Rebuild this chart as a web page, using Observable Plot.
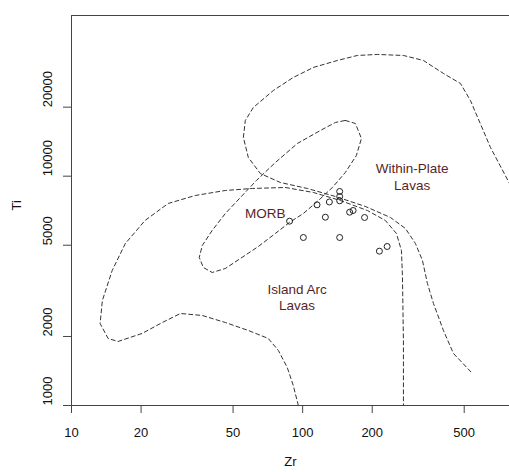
<!DOCTYPE html>
<html>
<head>
<meta charset="utf-8">
<script src="https://cdn.jsdelivr.net/npm/d3@7"></script>
<script src="https://cdn.jsdelivr.net/npm/@observablehq/plot@0.6"></script>
<style>
  html, body { margin: 0; padding: 0; background: #fff; overflow: hidden; }
  #chart { width: 509px; height: 472px; }
</style>
</head>
<body>
<div id="chart"></div>
<script>
// Sample points (Zr ppm, Ti ppm)
const sampleZr = [87.8, 115.4, 130.5, 144.6, 144.6, 144.6, 159.7, 165.3, 185.3, 125.4, 100.7, 144.6, 214.8, 232];
const sampleTi = [6365, 7500, 7718, 8577, 8155, 7810, 6966, 7086, 6605, 6625, 5403, 5403, 4710, 4936];

// Within-plate field boundary
const wpZr = [876, 777, 649.6, 532, 481.6, 406.5, 333, 272.9, 210.6, 172.5, 141.3, 111.3, 91.1, 74.7, 61.2, 56.5, 55.4, 58.2, 65.6, 80.1, 104.8, 138.6, 186.8, 239.8, 278.4, 307.5, 329.8, 346.6, 368, 406.5, 449.2, 542.8];
const wpTi = [7527, 9482, 13340, 21380, 25370, 28050, 31960, 33610, 33950, 33610, 31960, 29800, 26950, 23650, 19940, 17500, 14750, 12070, 10270, 9386, 8840, 8155, 7378, 6605, 5914, 5088, 4290, 3405, 2786, 2124, 1686, 1379];

// Island arc field boundary
const iaZr = [95.8, 91.1, 85.8, 78.5, 71.0, 58.2, 46.3, 36.8, 29.6, 24.7, 20.2, 15.9, 14.4, 13.3, 13.6, 15.0, 17.1, 20.8, 26.2, 34.3, 46.3, 60.6, 84.2, 111.3, 145.6, 190.6, 228.0, 254.5, 267.5, 270.2, 272.9, 272.9];
const iaTi = [1000, 1222, 1464, 1738, 1960, 2124, 2301, 2469, 2519, 2301, 2061, 1902, 1960, 2278, 2870, 3880, 5088, 6409, 7603, 8237, 8663, 8840, 8928, 8490, 7834, 7086, 6409, 5626, 4742, 3690, 1921, 1000];

// MORB field boundary (closed)
const morbZr = [153, 169.1, 179.6, 170.8, 153, 134.5, 117, 100.7, 87.6, 76.2, 64.3, 53.8, 46.3, 40.6, 37.2, 35.7, 36.8, 40.6, 46.3, 53.8, 63.1, 76.2, 94.9, 119.3, 138.6, 153];
const morbTi = [17500, 16980, 14600, 12310, 10380, 8928, 7834, 6876, 6280, 5626, 4936, 4377, 3958, 3802, 3998, 4421, 4987, 5798, 6876, 8074, 9576, 11470, 13890, 15820, 17150, 17500];

// Field labels
const labelText = ["Within-Plate", "Lavas", "MORB", "Island Arc", "Lavas"];
const labelZr = [297.6, 297.6, 68.9, 94.6, 94.6];
const labelTi = [10770, 9046, 6855, 3196, 2721];

const xTicks = [10, 20, 50, 100, 200, 500];
const yTicks = [1000, 2000, 5000, 10000, 20000];
const xDomain = [10, 785];
const yDomain = [1000, 50200];

const toRows = (xs, ys) => xs.map((x, i) => ({x, y: ys[i]}));
const samples = toRows(sampleZr, sampleTi);
const wp = toRows(wpZr, wpTi);
const ia = toRows(iaZr, iaTi);
const morb = toRows(morbZr, morbTi);
const labels = labelText.map((t, i) => ({t, x: labelZr[i], y: labelTi[i]}));

const lineStyle = {x: "x", y: "y", stroke: "#333", strokeWidth: 1, strokeDasharray: "4,3", clip: true};

const chart = Plot.plot({
  width: 509,
  height: 472,
  marginLeft: 71,
  marginRight: 0,
  marginTop: 15,
  marginBottom: 67,
  style: {fontFamily: "'Liberation Sans', Arial, sans-serif", fontSize: "13px", background: "#fff", color: "#111"},
  x: {type: "log", domain: xDomain},
  y: {type: "log", domain: yDomain},
  marks: [
    Plot.ruleY(yDomain, {stroke: "#444"}),
    Plot.ruleX([xDomain[0]], {stroke: "#444"}),
    Plot.line(wp, lineStyle),
    Plot.line(ia, lineStyle),
    Plot.line(morb, lineStyle),
    Plot.dot(samples, {x: "x", y: "y", r: 3, stroke: "#222", fill: "none", strokeWidth: 1}),
    Plot.text(labels, {x: "x", y: "y", text: "t", fill: "#5a1f26", fontSize: 13.5}),
    Plot.axisX({ticks: xTicks, tickSize: 8, tickPadding: 14, fontSize: 13, label: null, tickFormat: d => String(d), stroke: "#444", fill: "#111"}),
    Plot.axisY({ticks: yTicks, tickSize: 8, tickFormat: () => "", label: null, stroke: "#444"}),
    Plot.text(yTicks, {y: d => d, text: d => String(d), frameAnchor: "left", dx: -23.5, rotate: -90, fontSize: 13, fill: "#111"}),
    Plot.text(["Zr"], {text: d => d, frameAnchor: "bottom", dy: 60, fontSize: 13, fill: "#111"}),
    Plot.text(["Ti"], {text: d => d, frameAnchor: "left", dx: -55, rotate: -90, fontSize: 13, fill: "#111"})
  ]
});
document.getElementById("chart").appendChild(chart);
</script>
</body>
</html>
